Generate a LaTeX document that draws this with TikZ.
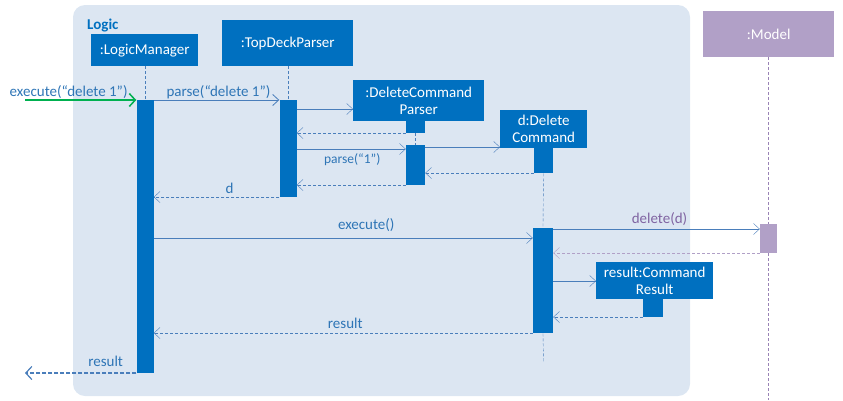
\documentclass[tikz,border=0pt]{standalone}
\usepackage{fontspec}
\setmainfont{Carlito}
\usetikzlibrary{arrows.meta}
\definecolor{panel}{HTML}{DCE6F2}
\definecolor{objblue}{HTML}{0070C0}
\definecolor{msgline}{HTML}{4A7EBB}
\definecolor{msgtext}{HTML}{2E75B6}
\definecolor{modelfill}{HTML}{B1A0C7}
\definecolor{modeltext}{HTML}{8064A2}
\definecolor{callgreen}{HTML}{00B050}
\tikzset{
  every node/.style={font=\fontsize{15}{17}\selectfont},
  objbox/.style={fill=objblue, text=white, inner sep=0, anchor=north west, align=center},
  actbar/.style={fill=objblue, inner sep=0, anchor=north, minimum width=17},
  lifeline/.style={draw=msgline, dashed, dash pattern=on 3pt off 2pt, thin},
  callmsg/.style={draw=msgline, thin, -{Straight Barb[length=6pt,width=11pt]}},
  retmsg/.style={draw=msgline, thin, dashed, dash pattern=on 3pt off 2pt, -{Straight Barb[length=6pt,width=11pt]}},
  msglabel/.style={text=msgtext, inner sep=0, anchor=base},
}
\begin{document}
\begin{tikzpicture}[x=1pt,y=-1pt]
\useasboundingbox (0,0) rectangle (843,400);

% Logic component frame
\fill[panel, rounded corners=12pt] (73,5) rectangle (690,396);
\node[anchor=base west, text=objblue, inner sep=0, font=\fontsize{15}{17}\selectfont\bfseries] (logiclbl) at (87,29) {Logic};

% object heads
\node[objbox, minimum width=107, minimum height=32] (lm) at (91,34) {:LogicManager};
\node[objbox, minimum width=131, minimum height=46] (tdp) at (222,20) {:TopDeckParser};
\node[objbox, minimum width=131, minimum height=41] (dcp) at (353,80) {:DeleteCommand\\Parser};
\node[objbox, minimum width=87, minimum height=38] (dc) at (500,110) {d:Delete\\Command};
\node[objbox, minimum width=117, minimum height=37] (cr) at (596,262) {result:Command\\Result};
\node[objbox, fill=modelfill, minimum width=131, minimum height=46] (model) at (703,11) {:Model};

% activation bars
\node[actbar, minimum height=273] (lmact) at (145,100) {};
\node[actbar, minimum height=97] (tdpact) at (288,100) {};
\node[actbar, minimum width=19, minimum height=12] (dcpend) at (415.5,121) {};
\node[actbar, minimum width=19, minimum height=40] (dcpact) at (415.5,145) {};
\node[actbar, minimum width=19, minimum height=25] (dcend) at (543.5,148) {};
\node[actbar, minimum width=20, minimum height=105] (dcact) at (543,228) {};
\node[actbar, minimum width=20, minimum height=18] (crend) at (653,299) {};
\node[actbar, fill=modelfill, minimum height=29] (modelact) at (768.5,224) {};

% lifelines
\draw[lifeline] (lm.south -| lmact.north) -- (lmact.north);
\draw[lifeline] (tdp.south -| tdpact.north) -- (tdpact.north);
\draw[lifeline] (dcpend.south) -- (dcpact.north);
\draw[lifeline] (dcend.south) -- (dcact.north);
\coordinate (dcbottom) at (543.5,362);
\draw[lifeline] (dcact.south) -- (dcbottom);
\draw[lifeline, draw=modeltext!80] (model.south -| modelact.north) -- (modelact.north);
\coordinate (modelbottom) at (768.5,400);
\draw[lifeline, draw=modeltext!80] (modelact.south) -- (modelbottom);

% message levels
\coordinate (y1) at (0,100);
\coordinate (y2) at (0,109);
\coordinate (y3) at (0,133);
\coordinate (y4) at (0,149);
\coordinate (y5) at (0,147);
\coordinate (y6) at (0,173);
\coordinate (y7) at (0,185);
\coordinate (y8) at (0,197);
\coordinate (y9) at (0,238);
\coordinate (y10) at (0,229);
\coordinate (y11) at (0,253);
\coordinate (y12) at (0,281);
\coordinate (y13) at (0,317);
\coordinate (y14) at (0,333);
\coordinate (y15) at (0,373);
\coordinate (caller) at (25,100);
\coordinate (receiver) at (25,373);

% incoming call
\draw[draw=callgreen, line width=1.5pt, -{Straight Barb[length=6pt,width=13pt]}] (caller) -- (lmact.west |- y1)
  node[midway, msglabel, yshift=4pt, xshift=-12pt] {execute(“delete 1”)};

% parsing
\draw[callmsg, line width=0.8pt] (lmact.east |- y1) -- (tdpact.west |- y1)
  node[midway, msglabel, yshift=4pt, xshift=2pt] {parse(“delete 1”)};
\draw[callmsg] (tdpact.east |- y2) -- (dcp.west |- y2);
\draw[retmsg] (dcpend.west |- y3) -- (tdpact.east |- y3);
\draw[callmsg] (tdpact.east |- y4) -- (dcpact.west |- y4)
  node[midway, msglabel, font=\fontsize{13.5}{15}\selectfont, yshift=-14pt, xshift=1pt] {parse(“1”)};
\draw[callmsg] (dcpact.east |- y5) -- (dc.west |- y5);
\draw[retmsg] (dcend.west |- y6) -- (dcpact.east |- y6);
\draw[retmsg] (dcpact.west |- y7) -- (tdpact.east |- y7);
\draw[retmsg] (tdpact.west |- y8) -- (lmact.east |- y8)
  node[midway, msglabel, yshift=4pt, xshift=13pt] {d};

% execution
\draw[callmsg] (lmact.east |- y9) -- (dcact.west |- y9)
  node[midway, msglabel, yshift=9pt, xshift=23pt] {execute()};
\draw[callmsg] (dcact.east |- y10) -- (modelact.west |- y10)
  node[midway, msglabel, text=modeltext, yshift=6pt, xshift=3pt] {delete(d)};
\draw[retmsg, draw=modelfill] (modelact.west |- y11) -- (dcact.east |- y11);
\draw[callmsg] (dcact.east |- y12) -- (cr.west |- y12);
\draw[retmsg] (crend.west |- y13) -- (dcact.east |- y13);
\draw[retmsg] (dcact.west |- y14) -- (lmact.east |- y14)
  node[midway, msglabel, yshift=5pt, xshift=2pt] {result};
\draw[retmsg, line width=1.2pt, dash pattern=on 4pt off 2pt, -{Straight Barb[length=6pt,width=13pt]}] (lmact.west |- y15) -- (receiver)
  node[midway, msglabel, yshift=7pt, xshift=25pt] {result};
\end{tikzpicture}
\end{document}
